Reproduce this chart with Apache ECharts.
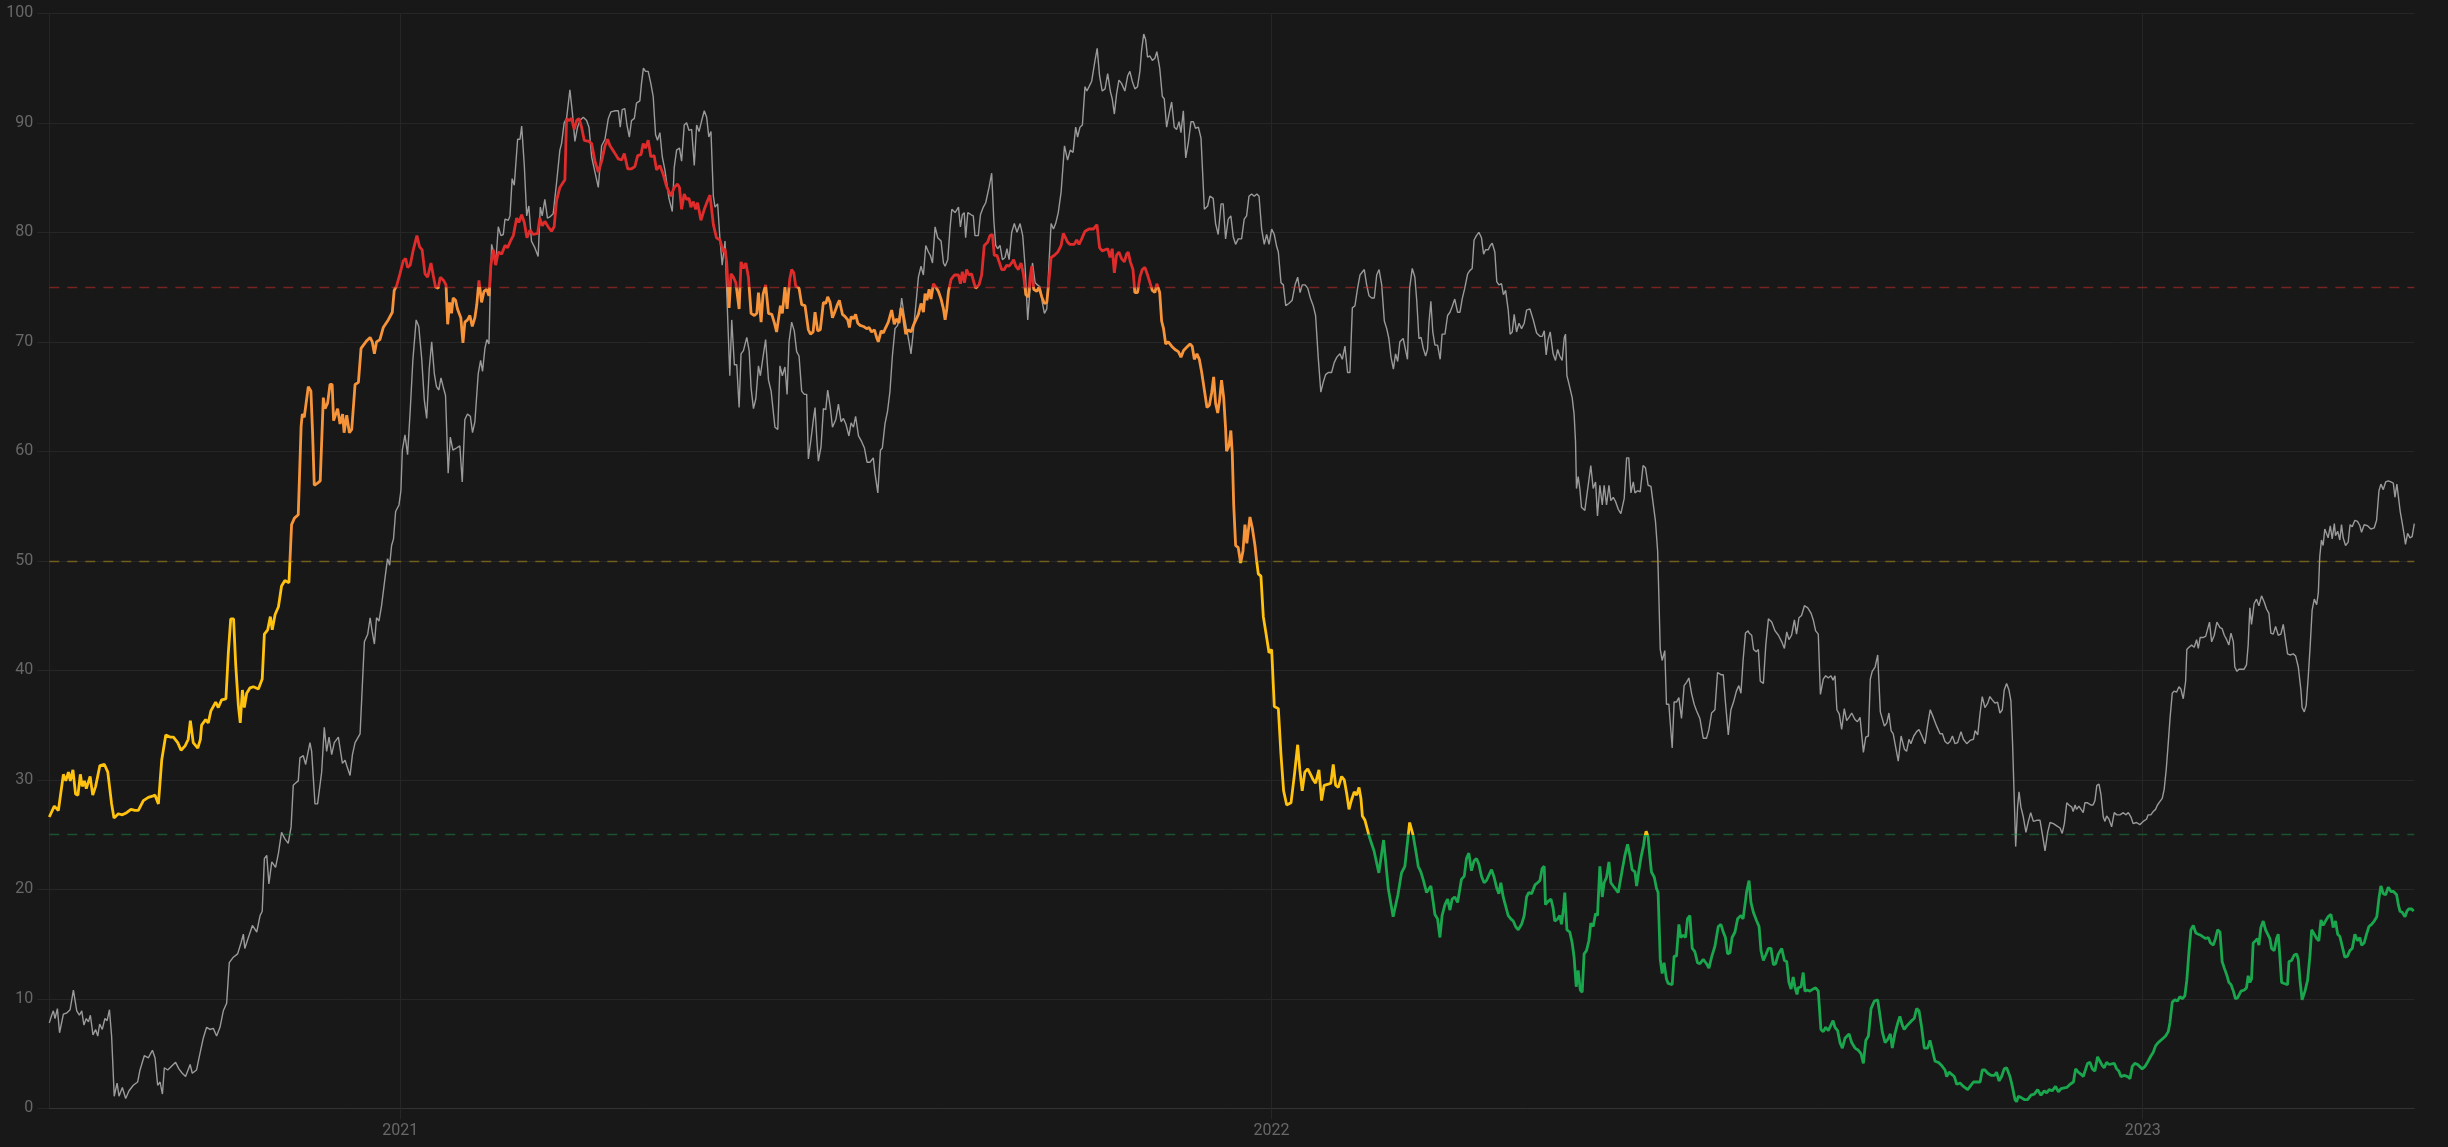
<!DOCTYPE html>
<html>
<head>
<meta charset="utf-8">
<script src="https://cdn.jsdelivr.net/npm/echarts@6/dist/echarts.min.js"></script>
<style>
html,body{margin:0;padding:0;background:#181818;}
#chart{width:2448px;height:1147px;}
</style>
</head>
<body>
<div id="chart"></div>
<script>
// Day offsets are counted from startDate; values are percentages (0-100).
const startDate = '2020-08-07';
const yearTicks = ['2021-01-01', '2022-01-01', '2023-01-01'];
const thresholds = [25, 50, 75];

// Thick coloured series: [dayOffset, value]
const heatData = [
[0,26.6],[2.1,27.6],[3.8,27.2],[5.9,30.5],[6.9,29.9],[8.0,30.7],[8.8,29.9],[9.9,30.9],[11.0,28.7],[12.0,28.6],[13.0,30.5],[13.8,29.4],[14.7,29.9],[15.5,29.2],[17.1,30.3],[18.2,28.6],[19.4,29.4],[21.2,31.3],[23.1,31.4],[24.5,30.7],[26.1,27.8],[27.1,26.5],[28.9,26.9],[30.6,26.8],[32.4,27.0],[34.2,27.3],[35.9,27.2],[37.3,27.2],[39.4,28.1],[41.5,28.4],[43.2,28.5],[44.3,28.6],[45.7,27.8],[47.1,31.8],[48.8,34.1],[50.6,33.9],[52.0,33.9],[53.8,33.4],[55.2,32.7],[56.9,33.1],[58.2,33.7],[59.1,35.4],[60.3,33.4],[62.2,32.9],[63.3,33.7],[63.8,35.0],[65.5,35.5],[66.6,35.2],[67.7,36.3],[69.7,37.1],[70.8,36.6],[72.2,37.3],[74.0,37.4],[75.0,41.6],[76.0,44.7],[77.2,44.7],[78.1,40.5],[79.2,36.8],[80.0,35.2],[80.9,38.2],[81.7,36.6],[82.7,37.9],[84.1,38.4],[85.5,38.5],[87.6,38.3],[89.2,39.2],[90.1,43.3],[91.5,43.7],[92.6,44.9],[93.4,43.7],[94.6,45.1],[96.0,45.8],[97.3,47.7],[98.7,48.2],[100.4,48.0],[101.5,53.3],[102.7,53.9],[104.3,54.2],[105.5,62.3],[106.0,63.4],[106.8,63.1],[108.5,65.9],[109.6,65.5],[110.3,61.7],[111.0,56.9],[112.4,57.1],[113.5,57.3],[114.8,64.9],[115.5,63.9],[116.6,64.4],[117.6,66.1],[118.5,66.1],[119.1,62.8],[120.8,63.9],[121.8,62.5],[122.9,63.4],[123.5,61.7],[124.6,63.3],[125.7,61.7],[126.7,62.0],[128.1,66.1],[129.5,66.3],[130.6,69.4],[131.6,69.7],[133.0,70.1],[134.4,70.4],[135.3,70.0],[136.2,68.9],[137.1,70.0],[138.5,70.2],[139.9,71.3],
[142.0,72.0],[143.7,72.7],[144.5,74.7],[145.5,75.1],[146.9,76.2],[148.3,77.4],[149.3,77.6],[150.1,76.8],[151.2,77.0],[152.5,78.4],[154.0,79.7],[155.1,78.7],[156.2,78.4],[157.4,76.2],[158.5,75.9],[159.9,77.2],[160.9,76.0],[161.8,75.0],[162.9,74.9],[163.8,75.9],[165.2,75.6],[166.2,75.2],[166.9,71.6],[167.7,73.6],[168.5,72.6],[169.2,74.0],[170.2,73.8],[171.0,73.0],[172.4,72.2],[173.3,69.9],[174.1,71.8],[175.2,72.0],[176.2,72.4],[177.2,71.4],[178.3,72.2],[179.1,73.4],[180.0,75.6],[181.1,73.6],[182.1,74.6],[183.2,74.8],[184.2,74.2],[185.0,77.0],[186.0,78.4],[187.0,77.0],[188.1,78.2],[189.5,78.0],[190.9,78.8],[192.0,78.6],[193.4,79.3],[194.4,79.7],[195.8,81.3],[196.7,80.9],[197.9,81.6],[199.0,80.9],[200.1,79.5],[201.4,80.2],[202.7,79.8],[204.6,79.9],[205.5,81.3],[206.5,80.6],[207.6,81.0],[209.0,80.5],[210.4,80.1],[211.5,80.5],[212.5,82.9],[213.9,84.1],[216.0,84.8],[216.7,90.4],[217.7,90.2],[218.8,90.4],[219.9,89.4],[220.9,90.2],[221.9,90.4],[223.0,89.6],[224.1,88.4],[226.1,88.3],[227.2,88.1],[228.6,86.5],[230.0,85.5],[231.4,86.5],[232.8,87.9],[233.9,88.5],[234.9,87.9],[236.7,87.3],[238.4,86.7],[239.8,86.6],[240.9,87.2],[242.3,85.8],[243.9,85.8],[245.3,86.0],[246.5,87.0],[247.9,87.1],[248.8,88.1],[249.8,87.7],[250.9,88.4],[252.0,86.9],[253.4,87.0],[254.4,85.7],[255.8,86.1],[257.2,85.3],[258.6,84.2],[260.4,83.3],[261.8,84.1],[263.2,84.4],[264.0,84.1],[264.9,82.1],[266.0,83.5],[267.0,83.0],[268.0,83.1],[268.8,82.3],[269.8,82.8],[270.8,82.1],[271.6,82.7],[273.0,81.1],[274.4,82.1],[275.8,82.9],[276.8,83.4],[278.2,80.7],[279.5,79.5],[281.0,79.3],[282.3,78.2],
[283.1,78.5],[283.8,77.2],[284.8,73.1],[285.6,76.2],[286.6,75.9],[287.6,75.4],[289.0,73.0],[289.8,77.3],[290.8,76.7],[291.8,77.2],[292.9,75.9],[294.0,72.6],[295.4,72.4],[296.4,72.6],[297.1,74.5],[298.2,71.8],[299.0,74.3],[300.1,75.2],[301.3,72.6],[302.7,72.5],[303.8,71.7],[304.7,70.9],[306.3,73.3],[307.1,72.6],[308.2,75.0],[309.1,73.0],[310.2,75.7],[311.0,76.6],[311.9,76.3],[312.7,75.1],[314.1,74.9],[315.2,73.4],[316.6,73.3],[318.0,71.1],[318.9,70.7],[320.0,70.9],[320.8,72.7],[321.9,71.0],[323.0,71.1],[324.3,73.6],[325.3,73.5],[326.1,74.1],[327.1,73.6],[328.1,72.2],[329.2,72.8],[330.0,73.3],[331.0,73.8],[332.3,72.5],[333.4,72.3],[334.5,72.0],[335.2,71.3],[335.9,72.3],[336.9,72.1],[337.8,72.5],[338.7,71.7],[339.7,71.5],[341.1,71.4],[342.4,71.2],[343.4,71.3],[344.5,70.9],[345.7,71.1],[346.6,70.4],[347.3,70.0],[348.5,71.0],[349.4,70.8],[350.4,71.3],[351.5,71.8],[352.9,72.9],[354.0,71.6],[355.0,72.1],[356.0,71.7],[356.8,73.1],[357.8,72.3],[358.8,70.7],[359.9,71.1],[361.0,70.9],[362.0,71.5],[364.1,72.5],[365.2,73.5],[366.2,72.7],[366.9,74.4],[367.7,73.8],[368.6,74.8],[369.4,73.9],[370.4,75.3],[371.4,75.0],[372.5,74.6],[373.6,73.9],[374.6,73.0],[375.3,72.0],[376.0,73.0],[376.7,74.6],[377.8,75.7],[379.2,76.1],[380.9,76.1],[381.7,75.3],[382.5,76.4],[383.4,75.4],[384.3,76.6],[385.3,76.1],[386.4,76.2],[387.5,75.3],[388.1,74.9],[389.5,75.2],[390.6,76.1],[391.7,78.8],[393.1,79.1],[394.1,79.7],[395.1,79.8],[395.9,77.9],[397.0,77.9],[399.0,76.6],[400.1,76.6],[401.1,77.0],[402.1,76.9],[403.2,77.2],[404.0,77.5],[404.9,76.9],[406.0,76.6],[407.1,77.2],[408.1,76.2],[409.1,74.3],[410.2,74.1],[410.9,75.9],[411.6,76.9],[412.4,74.8],[413.7,74.6],[414.6,75.0],[415.8,74.1],[416.9,73.5],[417.9,73.6],[418.8,75.6],[419.7,77.7],[421.1,77.9],[422.5,78.2],[423.9,78.8],[424.8,79.9],
[425.5,79.6],[426.6,79.1],[427.6,78.9],[429.4,78.9],[430.4,79.3],[431.4,78.9],[432.5,79.4],[433.9,80.1],[435.6,80.3],[437.4,80.3],[438.9,80.7],[440.0,78.6],[441.1,78.3],[443.4,78.5],[444.4,77.7],[445.3,78.5],[446.2,76.3],[447.1,77.9],[448.1,78.2],[449.2,77.6],[450.4,77.3],[451.3,78.0],[452.0,78.2],[452.9,77.3],[454.0,76.6],[454.8,74.5],[455.9,74.5],[456.9,75.9],[457.9,76.6],[459.0,76.8],[460.1,76.1],[461.1,75.4],[462.1,74.7],[463.2,74.5],[464.0,75.3],[465.2,74.5],[466.0,71.9],[466.8,71.2],[467.7,69.8],[468.8,70.0],[470.2,69.6],[471.6,69.3],[473.0,69.1],[474.1,68.6],[475.2,69.2],[476.5,69.5],[477.9,69.8],[478.8,69.6],[479.7,68.4],[480.8,68.9],[481.8,68.4],[482.8,67.2],[483.9,65.6],[485.0,64.0],[486.0,64.2],[487.0,65.4],[487.8,66.8],[488.6,64.4],[489.5,63.5],[490.3,64.7],[491.1,66.5],[492.0,64.9],[492.8,62.1],[493.2,60.0],[494.2,60.5],[495.0,61.9],[495.6,59.8],[496.2,55.1],[497.0,51.4],[498.1,51.2],[499.1,49.8],[500.1,50.9],[500.9,53.3],[501.7,51.6],[503.0,54.0],[504.0,53.0],[505.1,51.4],[505.8,50.0],[506.5,48.8],[507.6,48.6],[508.6,44.9],[510.0,43.0],[511.0,41.6],[512.1,41.9],[513.2,36.7],[514.9,36.5],[516.0,32.3],[517.1,29.0],[518.4,27.7],[520.2,27.9],[521.6,30.4],[523.0,33.2],[523.9,30.9],[524.9,29.0],[526.0,30.7],[527.2,31.0],[528.6,30.4],[529.5,30.0],[530.5,29.7],[531.9,30.9],[533.0,28.1],[534.1,29.5],[535.8,29.6],[536.9,29.7],[537.9,31.4],[538.9,29.5],[540.0,29.3],[541.4,30.3],[542.5,30.0],[543.5,28.8],[544.5,27.3],[545.6,28.2],[546.7,28.9],[547.7,28.6],[548.7,29.3],[549.5,28.3],[550.1,26.7],[551.2,26.3],
[553.0,24.8],[555.0,23.5],[557.0,21.5],[559.0,24.5],[561.0,20.0],[563.0,17.5],[565.0,19.5],[566.5,21.5],
[567.9,22.1],[569.9,26.1],[571.4,24.9],[572.1,24.8],[572.8,23.1],[573.5,22.1],[574.6,21.6],[575.7,20.8],[577.0,19.7],[578.8,20.3],[579.6,19.1],[580.5,17.7],[581.6,17.3],[582.6,15.6],[583.5,17.6],[584.7,18.6],[585.8,19.1],[586.8,18.1],[587.7,19.1],[588.8,19.3],[590.0,18.8],[591.6,20.9],[592.8,21.2],[593.7,22.8],[594.7,23.3],[595.8,21.7],[596.9,22.6],[597.9,22.8],[598.9,22.3],[600.0,21.2],[601.1,20.6],[602.1,20.8],[604.2,21.8],[605.3,21.1],[606.4,20.1],[607.3,19.6],[608.1,20.6],[609.1,19.3],[611.2,17.6],[612.3,17.3],[613.3,17.1],[614.3,16.6],[615.4,16.3],[616.8,16.8],[617.9,17.6],[618.9,19.3],[619.8,19.7],[621.0,19.6],[622.4,20.4],[623.5,20.6],[624.5,20.8],[625.4,21.9],[626.3,22.1],[626.8,18.6],[627.9,18.9],[629.1,19.1],[630.0,18.3],[630.7,17.1],[631.9,17.3],[632.8,17.6],[633.5,16.8],[634.4,18.3],[634.9,19.7],[635.8,16.3],[637.0,16.1],[638.0,15.1],[638.8,13.8],[639.7,11.1],[640.5,12.6],[641.4,10.8],[642.2,10.6],[643.0,14.1],[644.0,14.4],[645.0,15.3],[645.8,16.9],[646.8,16.6],[647.8,17.8],[648.6,17.6],[649.6,22.1],[650.6,19.3],[651.4,20.6],[652.4,21.1],[653.4,22.5],[654.2,20.6],[655.2,20.3],[657.3,19.7],[659.0,21.8],[660.1,23.1],[661.2,24.1],[662.2,23.1],[663.1,21.8],[664.3,21.6],[665.0,20.3],[666.0,21.8],[667.0,23.1],[667.9,24.0],[668.4,24.8],[669.0,25.3],[669.8,24.8],[670.5,23.1],[671.2,21.6],[672.4,21.1],[673.3,20.1],[674.0,19.7],[674.9,13.6],[675.7,12.3],[676.5,13.3],[677.5,11.8],[678.2,11.4],[679.9,11.3],[680.7,13.9],[681.7,13.9],[682.7,16.8],[683.5,15.6],[684.5,15.8],[685.5,15.6],[686.3,17.3],[687.3,17.6],[688.3,14.6],[689.4,14.3],[690.5,13.3],[691.5,13.2],[692.9,13.6],[694.3,13.2],[695.3,12.8],[696.4,13.8],[697.8,14.8],[699.2,16.6],[700.3,16.8],[701.3,16.1],[702.2,15.6],[703.1,14.1],[704.1,14.2],[705.0,15.6],[706.2,16.1],[707.3,17.3],[708.7,17.6],[709.6,17.3],
[710.4,18.6],[711.1,19.8],[712.1,20.8],[712.9,18.8],[713.9,17.9],[715.3,17.1],[716.3,16.6],[717.1,14.4],[718.1,13.5],[719.1,14.0],[720.2,14.6],[721.3,14.6],[722.3,13.1],[723.2,13.2],[724.4,14.1],[725.8,14.6],[726.9,13.5],[727.9,13.4],[728.8,11.5],[729.7,10.9],[730.6,12.0],[731.3,11.1],[732.2,10.4],[732.7,11.0],[733.9,11.1],[734.8,12.4],[735.5,10.7],[736.4,10.8],[737.6,10.7],[739.0,10.9],[740.0,11.0],[741.1,10.7],[742.2,7.2],[743.2,7.0],[744.2,7.4],[745.3,7.1],[747.3,8.0],[748.1,7.4],[749.2,7.1],[750.2,6.0],[751.2,5.5],[752.3,6.4],[754.0,6.8],[755.1,6.0],[756.5,5.5],[757.9,5.3],[759.0,5.0],[760.0,4.1],[761.0,6.2],[762.1,6.6],[763.2,9.1],[764.6,9.8],[766.0,9.9],[767.0,8.4],[767.9,7.0],[769.1,6.0],[770.2,6.3],[771.3,6.8],[772.1,5.5],[773.2,6.8],[774.4,7.8],[775.3,8.4],[776.3,7.6],[777.1,7.2],[778.1,7.5],[780.2,8.0],[781.3,8.2],[782.3,9.1],[783.3,8.9],[784.4,7.4],[785.5,5.5],[786.9,5.5],[787.9,6.2],[788.9,5.3],[790.0,4.3],[791.4,4.2],[792.8,3.9],[794.2,3.5],[794.9,2.9],[795.9,3.3],[797.0,3.1],[798.1,2.9],[799.1,2.2],[800.5,2.3],[801.9,2.0],[803.7,1.7],[804.7,2.0],[806.1,2.4],[807.5,2.4],[808.9,2.4],[809.8,3.5],[810.9,3.5],[812.1,3.2],[813.5,3.0],[814.9,3.0],[815.8,3.3],[816.8,2.5],[817.9,2.9],[819.0,3.6],[820.0,3.7],[821.4,2.9],[822.4,2.0],[823.5,0.8],[824.2,0.6],[824.9,1.1],[826.0,1.0],[827.4,0.8],[828.8,0.8],[830.2,1.2],[831.6,1.3],[833.0,1.7],[834.4,1.2],[835.8,1.6],[836.8,1.4],[837.8,1.7],[839.1,1.6],[840.5,2.0],[841.7,1.5],[842.8,1.8],[845.2,1.9],[846.6,2.2],[848.0,2.4],[848.9,3.6],[850.0,3.3],[851.2,3.1],[852.1,2.9],
[853.9,4.1],[854.9,4.2],[855.9,3.6],[857.0,3.4],[858.1,4.7],[859.1,4.3],[860.1,3.9],[860.9,3.7],[861.9,4.2],[862.9,4.0],[865.1,4.1],[866.1,3.6],[867.0,3.4],[867.9,2.9],[869.3,3.0],[870.7,2.9],[871.7,2.7],[872.6,3.8],[873.7,4.1],[874.9,4.0],[876.8,3.6],[877.9,3.8],[879.3,4.3],[880.5,4.8],[881.4,5.1],[882.4,5.7],[883.5,6.0],[885.6,6.4],[886.6,6.6],[887.7,7.0],[888.4,7.8],[889.4,9.7],[890.5,9.9],[891.6,9.8],[892.6,10.2],[893.6,10.0],[894.7,10.3],[895.5,11.7],[896.4,14.3],[897.2,16.3],[898.2,16.7],[899.3,16.0],[900.3,15.9],[901.4,15.8],[903.4,15.5],[904.5,15.6],[905.4,15.1],[906.6,14.9],[907.5,15.5],[908.4,16.3],[909.4,16.1],[910.3,13.4],[911.2,12.8],[912.2,12.2],[913.1,11.5],[914.0,11.3],[915.0,10.7],[915.9,10.0],[916.8,10.1],[918.2,10.7],[919.6,10.8],[920.5,11.0],[921.2,12.1],[921.9,11.5],[922.6,11.8],[923.3,15.1],[924.3,15.3],[925.1,15.5],[925.7,14.9],[926.5,16.5],[927.5,17.1],[928.5,16.3],[930.3,15.5],[931.0,14.6],[932.1,14.4],[933.1,15.5],[933.8,15.9],[934.5,13.8],[935.2,11.5],[936.3,11.4],[937.7,11.3],[938.3,13.4],[939.4,13.5],[940.5,14.0],[941.5,14.1],[942.2,13.6],[942.9,11.7],[943.8,9.9],[945.0,10.7],[946.1,11.7],[947.1,14.0],[947.8,16.3],[948.9,15.9],[949.9,15.5],[950.8,15.3],[951.7,17.2],[952.6,16.7],[953.6,17.1],[954.7,17.5],[955.9,17.7],[956.8,16.5],[957.8,17.1],[958.7,15.9],[959.6,15.7],[961.7,13.8],[962.8,13.9],[963.8,14.4],[964.8,14.6],[965.9,15.9],[967.0,15.3],[968.0,15.6],[968.7,14.9],[969.8,15.1],[970.8,15.9],[971.8,16.6],[972.9,16.8],[974.0,17.1],[975.1,17.5],[976.0,19.2],[976.8,20.3],[977.8,19.6],[978.8,19.5],[979.9,20.2],[981.0,19.8],[982.1,19.8],[983.4,19.5],[984.1,18.6],[984.8,18.0],[985.7,17.9],[986.9,17.5],[987.7,18.0],[988.5,18.2],[989.7,18.2],[990.5,18.0]
];

// Thin grey series: [dayOffset, value]
const greyData = [
[0,7.8],[1.0,8.5],[1.7,8.9],[2.4,8.2],[3.4,9.1],[4.3,6.9],[5.9,8.6],[7.3,8.7],[8.7,9.0],[10.1,10.8],[11.5,8.9],[12.6,8.5],[13.6,8.9],[14.5,7.6],[15.5,8.2],[16.4,7.9],[17.2,8.5],[18.3,6.7],[19.4,7.2],[20.3,6.6],[21.1,7.7],[22.2,7.2],[23.3,8.2],[24.2,8.0],[25.2,9.0],[26.1,6.6],[27.2,1.1],[28.4,2.3],[29.2,1.1],[30.6,1.9],[32.0,0.9],[33.4,1.6],[35.2,2.1],[37.0,2.4],[38.0,3.5],[39.8,4.8],[41.5,4.6],[43.2,5.3],[44.3,4.6],[45.4,2.1],[46.4,2.4],[47.4,1.3],[48.2,3.7],[49.6,3.5],[51.0,3.8],[52.9,4.2],[54.3,3.6],[55.7,3.2],[57.1,2.9],[59.0,4.0],[59.9,3.2],[61.7,3.5],[63.1,5.0],[64.5,6.4],[65.9,7.4],[67.3,7.2],[68.7,7.3],[70.1,6.6],[71.5,7.4],[72.9,8.9],[74.3,9.6],[75.4,13.3],[77.1,13.8],[78.9,14.1],[80.3,15.1],[81.3,15.9],[81.9,14.6],[83.4,15.6],[85.1,16.7],[86.9,16.1],[88.3,17.6],[89.2,18.0],[90.1,22.8],[91.1,23.1],[92.0,20.5],[93.2,22.5],[94.8,22.0],[96.0,23.3],[97.3,25.2],[98.7,24.6],[100.1,24.2],[101.3,25.7],[102.2,29.5],[103.2,29.7],[104.3,29.9],[105.0,32.0],[106.4,32.2],[107.4,31.4],[109.2,33.4],[109.9,32.6],[111.3,27.8],[112.4,27.8],[114.1,30.7],[115.2,34.8],[116.2,32.6],[117.2,33.9],[118.3,32.3],[119.4,33.4],[121.1,33.9],[122.8,31.5],[123.9,31.8],[124.6,31.3],[126.0,30.4],[127.0,32.3],[128.1,33.4],[130.2,34.2],[131.1,38.4],[132.0,42.6],[133.4,43.3],[134.4,44.8],[135.3,43.5],[136.2,42.4],[137.1,44.8],[138.1,44.5],[139.2,45.9],[140.4,48.0],
[141.7,50.2],[142.6,49.6],[143.4,51.4],[144.2,52.0],[145.1,54.5],[146.5,55.1],[147.3,56.4],[147.9,60.1],[149.0,61.5],[150.1,59.7],[151.2,63.7],[152.3,68.3],[153.7,72.0],[154.8,71.4],[156.0,68.5],[157.1,64.7],[158.1,63.0],[159.2,67.6],[160.2,70.0],[161.3,67.1],[162.2,65.9],[163.2,65.6],[164.1,66.7],[165.0,65.9],[166.0,65.1],[167.1,58.0],[168.0,61.3],[169.1,60.1],[170.6,60.3],[172.0,60.5],[173.0,57.2],[174.1,62.9],[175.2,63.4],[176.4,63.2],[177.3,61.7],[178.3,62.7],[179.7,67.1],[180.7,68.3],[181.5,67.3],[182.5,69.4],[183.3,70.2],[184.2,69.8],[184.7,74.6],[185.3,78.9],[186.1,78.9],[187.1,77.4],[188.1,80.5],[189.2,79.7],[190.2,79.8],[190.9,81.2],[192.3,81.1],[193.0,81.5],[193.9,84.9],[194.8,84.3],[196.2,88.5],[197.2,88.5],[197.9,89.7],[199.0,86.1],[200.0,81.5],[200.9,82.4],[202.0,79.2],[203.4,78.6],[204.8,77.8],[205.7,82.3],[206.5,81.5],[207.6,83.0],[208.7,81.3],[209.7,81.4],[211.1,81.7],[212.5,84.5],[213.9,87.5],[214.6,88.1],[215.7,90.0],[216.7,90.4],[218.1,93.0],[219.1,91.0],[220.2,88.3],[221.3,89.6],[222.3,90.2],[223.7,90.5],[225.1,90.2],[226.1,89.6],[227.2,86.9],[228.6,85.5],[230.0,84.1],[231.4,87.9],[232.8,88.5],[234.2,90.4],[235.3,91.0],[237.2,91.1],[238.4,91.1],[239.2,89.6],[240.0,91.2],[241.1,91.3],[242.0,89.8],[243.0,88.7],[243.9,90.2],[245.1,90.4],[246.0,91.8],[247.4,92.0],[248.1,93.6],[248.9,95.0],[249.8,94.7],[250.9,94.7],[252.0,93.6],[253.0,92.4],[254.0,88.9],[254.8,88.4],[255.8,89.1],[256.8,86.9],[257.9,85.7],[259.6,83.1],[261.0,81.9],[261.8,85.9],[262.8,87.5],[264.0,87.7],[264.9,86.5],[266.0,89.8],[267.0,90.0],[268.0,89.3],[269.1,89.4],[270.2,86.1],[271.2,89.8],[272.2,89.2],[273.3,90.2],[274.4,91.1],[275.4,90.5],[276.3,88.7],[277.2,89.2],[278.2,83.3],[278.9,82.3],[280.0,82.6],[281.0,79.3],[281.9,77.0],
[283.1,79.2],[283.8,74.6],[285.1,66.9],[285.9,72.0],[287.0,67.9],[288.0,67.9],[289.0,64.0],[289.8,68.9],[290.8,69.2],[292.2,70.4],[293.2,69.2],[294.0,65.8],[295.0,63.9],[296.0,64.8],[297.1,67.8],[297.9,66.9],[299.0,68.6],[300.1,70.2],[301.3,66.5],[302.4,65.5],[303.1,65.5],[304.0,62.2],[305.2,62.0],[306.1,67.8],[307.1,66.9],[308.2,67.7],[309.1,65.2],[309.9,70.0],[311.0,71.8],[312.1,71.0],[313.1,69.1],[314.1,68.7],[315.2,65.5],[316.3,65.2],[317.3,65.2],[318.0,59.3],[319.1,61.1],[320.1,62.9],[320.8,64.0],[321.6,60.9],[322.2,59.1],[323.3,60.4],[324.3,63.9],[325.3,63.8],[326.1,65.6],[327.2,64.0],[328.1,62.2],[329.5,62.9],[330.6,64.3],[331.7,62.7],[332.7,63.0],[333.7,62.5],[335.0,61.4],[335.9,62.6],[336.9,62.2],[337.8,63.2],[339.0,61.4],[340.3,60.9],[341.5,60.3],[342.6,59.0],[343.8,59.0],[345.2,59.4],[345.9,58.0],[347.1,56.2],[348.2,60.1],[349.0,60.3],[350.1,62.5],[351.2,63.7],[352.2,65.5],[353.2,68.7],[354.3,71.2],[355.4,71.5],[356.4,72.6],[357.1,74.0],[358.2,72.3],[359.6,70.7],[361.0,68.9],[362.0,71.0],[363.0,73.3],[364.1,75.9],[365.2,76.9],[366.2,76.1],[367.2,78.8],[368.3,78.2],[369.1,77.9],[370.0,77.2],[371.1,80.5],[372.2,79.5],[373.6,79.2],[374.6,77.2],[375.3,76.9],[376.4,77.5],[377.4,80.5],[378.1,82.1],[379.5,81.8],[380.9,82.3],[381.7,80.5],[382.5,81.6],[383.3,81.8],[383.9,79.5],[384.8,81.8],[386.2,81.6],[387.1,81.5],[387.8,79.7],[389.2,79.7],[390.1,81.6],[391.3,82.3],[392.3,82.7],[393.1,82.8],[393.7,84.1],[394.8,85.4],[395.7,81.1],[396.5,78.8],[397.3,78.5],[398.3,78.8],[399.3,77.5],[400.4,77.7],[401.2,78.5],[402.1,77.5],[403.2,80.0],[404.3,80.8],[405.4,80.0],[406.7,80.8],[407.8,79.7],[408.8,76.9],[409.9,72.0],[410.9,74.9],[411.9,77.2],[413.0,75.4],[414.0,75.2],[415.1,75.0],[416.0,73.6],[416.9,72.6],[417.9,73.0],[418.8,77.1],[419.7,80.8],[420.7,80.3],[421.6,80.8],[422.7,81.8],[423.9,83.7],[425.3,87.9],
[426.6,86.6],[427.7,87.5],[428.9,87.3],[430.0,89.6],[430.8,88.7],[431.8,89.6],[432.8,89.8],[433.9,93.3],[434.7,92.9],[435.6,93.3],[436.7,93.8],[438.1,95.7],[439.0,96.8],[440.0,94.3],[441.1,92.9],[442.3,93.1],[443.4,94.5],[444.5,92.9],[445.3,92.2],[446.2,90.8],[447.1,92.6],[448.1,93.9],[449.2,93.6],[450.6,92.9],[451.8,94.3],[452.7,94.7],[453.7,93.8],[454.8,93.1],[455.9,93.3],[456.9,94.7],[457.6,96.6],[458.5,98.1],[459.3,97.6],[460.1,96.0],[461.1,96.1],[462.1,95.7],[463.2,95.9],[464.0,96.5],[465.2,95.0],[466.3,92.4],[467.1,92.2],[468.1,89.6],[469.1,90.8],[470.2,91.9],[471.3,89.6],[472.3,89.4],[473.3,90.1],[474.1,89.1],[475.1,91.1],[476.1,86.8],[477.2,88.2],[478.3,90.1],[479.3,90.1],[480.2,89.5],[481.4,89.6],[482.5,88.6],[483.9,82.1],[485.3,82.4],[486.2,83.3],[487.6,83.1],[488.6,80.8],[489.7,79.8],[490.9,82.6],[491.8,82.6],[492.8,79.4],[493.9,81.2],[495.0,81.5],[496.0,79.6],[497.0,78.9],[498.1,79.4],[499.5,79.4],[500.6,81.2],[501.6,81.5],[502.6,83.3],[503.7,83.5],[504.8,83.3],[505.9,83.5],[506.8,83.3],[507.9,80.3],[509.0,78.9],[510.0,79.8],[511.0,78.9],[512.1,80.3],[513.2,79.8],[514.2,78.7],[514.9,78.2],[516.0,75.4],[517.0,75.2],[518.0,73.3],[519.3,73.5],[520.7,73.8],[521.9,75.2],[523.0,75.9],[524.0,74.5],[524.9,75.2],[526.1,75.2],[527.2,74.9],[528.3,74.0],[529.5,73.3],[530.5,72.4],[531.6,68.6],[532.7,65.4],[533.7,66.3],[534.7,67.0],[535.8,67.2],[537.2,67.2],[538.3,68.1],[539.4,68.6],[540.7,68.9],[541.7,68.4],[542.8,69.6],[543.9,67.2],[544.9,67.2],[545.9,73.1],[547.0,73.3],[548.1,74.9],[549.1,76.1],[550.9,76.6],[551.9,75.2],[552.9,74.2],[554.0,74.0],[555.1,74.0],[556.1,76.1],[557.1,76.6],[558.2,75.2],[559.3,71.9],[560.3,71.2],[561.2,70.3],[562.1,68.6],[563.1,67.5],[564.0,68.9],[564.9,68.2],[565.8,70.0],[567.2,70.3],
[569.0,68.4],[569.9,74.9],[571.0,76.7],[572.1,75.9],[572.9,73.7],[573.8,70.3],[574.7,70.4],[575.6,69.4],[576.6,68.7],[577.4,69.3],[578.0,71.7],[578.8,73.7],[579.6,70.9],[580.5,69.7],[581.6,69.7],[582.7,68.4],[583.5,70.7],[584.7,70.7],[585.8,72.4],[586.8,72.7],[587.7,73.2],[588.8,73.9],[590.0,72.7],[591.0,72.7],[591.9,73.9],[593.0,74.9],[594.2,76.2],[595.1,76.5],[596.1,76.7],[596.9,79.3],[597.9,79.7],[598.9,80.0],[600.0,79.5],[600.9,78.0],[601.7,78.4],[602.8,78.4],[603.7,78.8],[604.5,79.0],[605.6,78.2],[606.4,75.5],[607.3,75.2],[608.4,75.3],[609.2,74.3],[610.1,74.7],[611.2,72.9],[612.0,70.7],[612.9,70.9],[613.7,72.5],[614.7,70.9],[615.7,71.7],[616.8,71.2],[617.9,71.7],[618.9,72.9],[620.3,73.0],[621.7,72.0],[623.1,70.8],[624.5,70.5],[625.5,70.5],[626.3,71.0],[627.1,68.8],[627.9,70.2],[628.8,70.9],[630.0,68.9],[631.0,68.3],[631.9,69.3],[632.8,68.7],[633.8,68.3],[634.7,70.4],[635.2,70.7],[635.8,66.9],[636.6,66.2],[638.0,64.9],[638.8,63.4],[639.4,60.9],[639.8,56.6],[640.5,57.7],[641.2,56.6],[641.9,54.9],[643.3,54.6],[644.4,56.4],[645.8,58.7],[646.8,56.6],[647.8,57.2],[648.6,54.1],[649.6,56.9],[650.6,55.1],[651.4,56.9],[652.4,55.1],[653.4,56.9],[654.2,55.5],[655.2,55.8],[656.2,55.4],[657.3,54.7],[658.4,54.3],[659.8,55.7],[660.8,59.4],[661.7,59.4],[662.6,56.2],[663.6,57.2],[664.3,56.2],[665.4,56.4],[666.5,56.3],[667.7,58.7],[668.7,58.5],[669.8,56.9],[671.0,56.8],[672.0,55.1],[672.9,53.6],[673.8,50.9],[674.3,46.9],[674.9,41.9],[675.7,40.9],[676.8,41.8],[677.5,36.9],[678.5,36.9],[679.9,32.9],[680.7,37.1],[681.7,37.1],[682.7,37.5],[683.8,35.6],[684.9,38.6],[685.9,38.9],[686.9,39.3],[688.0,37.9],[689.1,36.9],[690.1,36.3],[691.5,35.6],[692.9,33.8],[694.3,33.8],[695.3,34.6],[696.4,36.1],[697.8,36.4],[698.9,39.8],[700.3,39.6],[701.3,39.6],[702.2,37.1],[703.4,34.1],[704.5,36.4],[705.6,37.1],[706.8,38.1],[707.8,38.6],[708.7,37.9],[709.6,40.9],[710.6,43.4],[711.7,43.6],
[712.1,43.4],[713.2,43.2],[714.0,41.9],[715.1,41.7],[716.0,41.9],[716.8,39.0],[718.1,38.8],[719.1,42.3],[720.2,44.7],[721.6,44.4],[723.0,43.6],[724.4,43.2],[725.8,42.6],[726.9,42.0],[727.9,43.5],[728.8,42.8],[729.9,43.2],[731.1,44.6],[732.0,43.3],[733.0,44.8],[734.1,45.0],[735.3,45.9],[736.7,45.7],[738.1,45.2],[739.0,44.6],[740.0,43.6],[741.1,43.3],[742.0,37.8],[743.2,39.2],[744.2,39.5],[745.3,39.3],[746.4,39.5],[747.3,39.1],[748.1,39.5],[748.9,36.4],[749.9,36.0],[750.9,34.6],[752.0,36.5],[753.0,35.4],[754.0,35.7],[755.1,36.1],[756.5,35.5],[757.5,35.3],[758.6,35.7],[759.3,34.1],[760.0,32.5],[761.0,33.9],[762.1,34.0],[762.9,39.2],[763.7,39.9],[764.9,40.3],[766.0,41.4],[766.5,39.0],[767.1,36.2],[767.9,36.2],[768.8,34.9],[769.8,35.2],[770.7,36.1],[771.6,34.5],[772.5,34.2],[773.5,33.0],[774.6,31.7],[775.8,34.0],[777.2,32.8],[778.1,32.6],[779.1,33.7],[779.9,33.3],[781.1,34.0],[782.3,34.4],[783.3,34.6],[784.7,33.9],[785.8,33.3],[786.9,35.0],[788.0,36.4],[789.3,35.7],[790.7,34.9],[792.1,34.2],[793.1,34.2],[794.2,33.5],[795.3,33.3],[796.3,33.5],[797.3,34.0],[798.4,33.3],[799.5,33.4],[800.9,34.4],[801.9,33.7],[803.3,33.3],[804.7,33.6],[806.1,33.7],[806.8,34.5],[807.9,34.1],[808.9,36.1],[809.8,37.6],[810.9,36.6],[812.1,37.0],[813.0,37.6],[814.0,37.3],[815.1,37.0],[816.2,37.1],[817.2,36.1],[818.2,36.4],[819.0,38.2],[820.0,38.8],[821.0,38.2],[821.8,37.2],[822.5,33.3],[823.2,28.3],[823.8,23.9],[824.6,27.5],[825.2,28.9],[826.0,27.5],[827.0,26.6],[828.1,25.2],[829.1,26.2],[830.1,27.0],[831.2,26.2],[832.6,26.3],[834.0,26.3],[835.0,25.0],[836.1,23.5],[837.2,25.2],[838.2,26.1],[839.6,26.0],[841.0,25.8],[842.4,25.6],[843.3,25.1],[844.2,26.0],[845.2,27.9],[846.1,27.7],[847.3,27.5],[847.9,27.1],[848.7,27.7],[849.3,27.3],[850.3,27.6],[852.1,27.0],[852.8,27.9],
[853.9,27.9],[855.3,27.7],[856.2,27.7],[857.0,28.1],[857.8,29.5],[858.7,29.6],[859.5,28.7],[860.5,26.6],[861.2,26.2],[861.9,26.7],[862.9,26.4],[864.0,25.7],[865.1,27.0],[866.2,26.8],[867.5,26.8],[868.9,27.0],[869.9,26.8],[871.0,27.0],[872.1,26.6],[873.0,26.0],[874.4,26.1],[875.8,25.9],[877.2,26.2],[878.6,26.4],[879.3,26.8],[880.4,26.8],[881.4,27.1],[882.4,27.3],[883.2,27.7],[884.2,28.0],[885.2,28.3],[886.0,29.1],[886.9,31.0],[887.7,33.3],[888.5,35.7],[889.4,37.9],[890.2,38.1],[891.2,38.0],[892.2,38.5],[893.0,38.3],[894.0,37.4],[895.0,39.0],[895.5,41.9],[896.4,42.1],[897.5,42.3],[898.6,42.1],[899.6,42.8],[900.3,42.0],[901.1,43.0],[902.4,43.0],[903.4,43.1],[904.2,43.1],[905.0,44.4],[905.9,42.6],[907.0,43.2],[908.1,44.4],[909.4,43.9],[910.3,43.8],[911.2,43.2],[912.2,42.8],[913.1,42.3],[914.0,43.4],[915.0,42.6],[915.6,40.3],[916.5,39.9],[917.3,40.1],[918.4,40.1],[919.5,40.1],[920.5,40.5],[921.2,42.3],[921.9,45.7],[922.6,44.2],[923.7,46.1],[924.7,46.5],[925.7,45.9],[926.8,46.8],[928.0,46.2],[928.9,45.6],[929.9,45.2],[930.7,43.4],[931.7,43.3],[932.7,44.0],[933.8,43.2],[934.9,43.3],[935.9,44.2],[936.6,44.1],[937.7,41.5],[938.7,41.4],[940.1,41.5],[941.1,41.3],[942.2,40.3],[943.3,38.2],[943.8,36.6],[944.7,36.2],[945.5,36.8],[946.4,39.5],[947.2,42.3],[948.0,45.5],[948.9,46.5],[949.9,46.0],[950.6,47.1],[951.2,50.4],[951.9,51.9],[952.6,51.4],[953.3,52.9],[954.1,52.9],[954.7,52.1],[955.6,53.2],[956.4,52.0],[957.3,53.4],[957.8,52.3],[958.7,52.7],[959.6,51.9],[960.3,53.3],[961.0,52.1],[962.0,51.4],[963.1,51.7],[963.9,53.3],[964.8,53.1],[965.9,53.7],[967.0,53.6],[968.0,53.2],[968.7,52.6],[969.8,53.3],[971.2,53.2],[972.6,52.9],[974.0,53.0],[975.0,53.7],[976.0,56.4],[976.8,57.0],[977.8,56.5],[978.8,57.2],[979.9,57.3],[981.0,57.2],[982.0,57.1],[982.7,55.8],[983.5,57.0],[984.3,56.9],[984.9,54.5],[985.7,53.5],[986.6,52.3],[987.1,51.5],[988.0,52.5],[989.0,52.1],[989.9,52.2],[990.8,53.4]
];

const DAY = 86400000;
const t0 = Date.parse(startDate + 'T00:00:00Z');
const toSeries = arr => arr.map(p => [t0 + p[0] * DAY, p[1]]);
const yearTickValues = yearTicks.map(d => Date.parse(d + 'T00:00:00Z'));

const gridColor = '#262626';
const chart = echarts.init(document.getElementById('chart'), null, { renderer: 'canvas' });
chart.setOption({
  backgroundColor: '#181818',
  animation: false,
  textStyle: { fontFamily: 'Roboto, "Noto Sans", sans-serif' },
  grid: { left: 49.3, right: 33.7, top: 13.3, bottom: 38.7, containLabel: false },
  xAxis: {
    type: 'value',
    min: 'dataMin',
    max: 'dataMax',
    scale: true,
    axisLine: { show: true, lineStyle: { color: '#333333', width: 1 } },
    axisTick: { show: true, customValues: yearTickValues, length: 11, lineStyle: { color: gridColor } },
    splitLine: { show: true, lineStyle: { color: gridColor, width: 1 } },
    axisLabel: {
      customValues: yearTickValues,
      color: '#686868',
      fontSize: 16,
      margin: 15,
      formatter: v => String(new Date(v).getUTCFullYear())
    }
  },
  yAxis: {
    type: 'value',
    min: 0,
    max: 100,
    interval: 10,
    axisLine: { show: true, lineStyle: { color: gridColor } },
    axisTick: { show: true, length: 12, lineStyle: { color: gridColor } },
    splitLine: { show: true, lineStyle: { color: gridColor, width: 1 } },
    axisLabel: { color: '#686868', fontSize: 16, margin: 16 }
  },
  visualMap: {
    type: 'piecewise',
    show: false,
    seriesIndex: 1,
    dimension: 1,
    pieces: [
      { lt: thresholds[0], color: '#19a64d' },
      { gte: thresholds[0], lt: thresholds[1], color: '#ffc20e' },
      { gte: thresholds[1], lt: thresholds[2], color: '#f7943a' },
      { gte: thresholds[2], color: '#e02b2b' }
    ]
  },
  series: [
    {
      name: 'grey',
      type: 'line',
      data: toSeries(greyData),
      showSymbol: false,
      symbol: 'none',
      z: 2,
      lineStyle: { color: '#9a9a9a', width: 1.4 },
      markLine: {
        silent: true,
        symbol: 'none',
        label: { show: false },
        data: [
          { yAxis: thresholds[2], lineStyle: { color: 'rgba(200,45,45,0.55)', type: [10, 8], width: 1.3 } },
          { yAxis: thresholds[1], lineStyle: { color: 'rgba(190,150,20,0.5)', type: [10, 8], width: 1.3 } },
          { yAxis: thresholds[0], lineStyle: { color: 'rgba(30,140,70,0.5)', type: [10, 8], width: 1.3 } }
        ]
      }
    },
    {
      name: 'heat',
      type: 'line',
      data: toSeries(heatData),
      showSymbol: false,
      symbol: 'none',
      z: 3,
      lineStyle: { width: 2.8 }
    }
  ]
});
</script>
</body>
</html>
